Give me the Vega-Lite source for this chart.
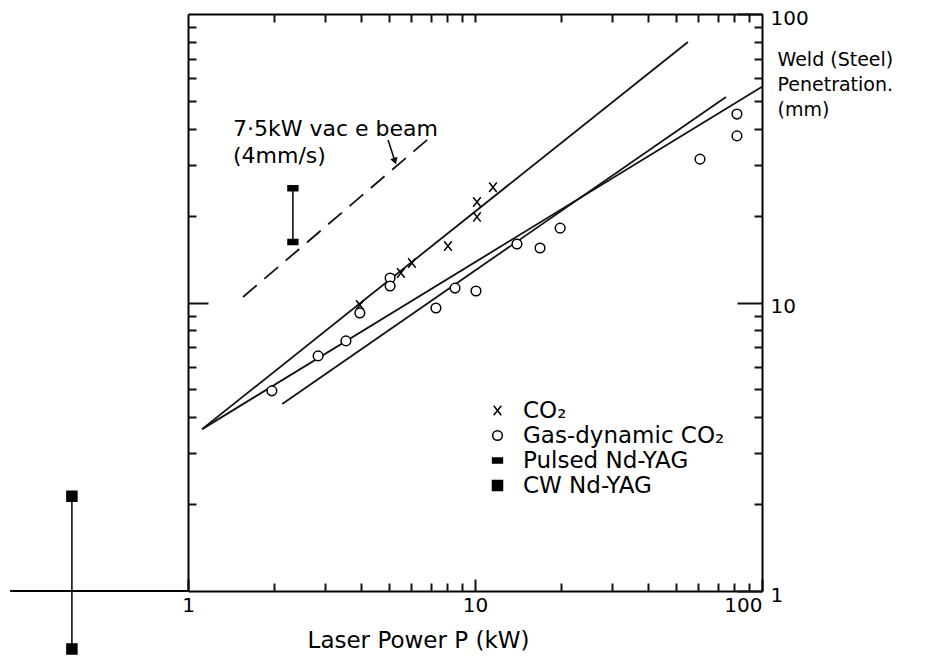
{
  "$schema": "https://vega.github.io/schema/vega-lite/v6.json",
  "width": 574,
  "height": 577,
  "autosize": {"type": "none"},
  "padding": {"left": 188, "top": 14, "right": 165, "bottom": 67},
  "background": "white",
  "config": {
    "view": {"stroke": null},
    "font": "DejaVu Sans",
    "axis": {"grid": false, "domainColor": "black", "domainWidth": 2, "labelColor": "black", "labelOverlap": false, "labelFlush": false}
  },
  "datasets": {
    "fits": [
      {"line": "A", "power": 1.12, "depth": 3.64},
      {"line": "A", "power": 55.2, "depth": 80.0},
      {"line": "B", "power": 1.12, "depth": 3.64},
      {"line": "B", "power": 100, "depth": 56},
      {"line": "C", "power": 2.13, "depth": 4.45},
      {"line": "C", "power": 74.9, "depth": 51.6}
    ],
    "vacbeam": [
      {"power": 1.555, "depth": 10.45},
      {"power": 7.14, "depth": 38.1}
    ],
    "extension": [
      {"from": 0.24, "to": 1, "at": 1}
    ],
    "ranges": [
      {"type": "Pulsed Nd-YAG", "power": 2.32, "lo": 16.2, "hi": 24.9},
      {"type": "CW Nd-YAG", "power": 0.394, "lo": 0.63, "hi": 2.13}
    ],
    "arrow": [
      {"power": 4.98, "depth": 36.6},
      {"power": 5.26, "depth": 30.9}
    ],
    "arrowtip": [
      {"power": 5.26, "depth": 30.9}
    ],
    "markers": [
      {"type": "Gas-dynamic CO₂", "power": 1.96, "depth": 4.94},
      {"type": "Gas-dynamic CO₂", "power": 2.84, "depth": 6.53},
      {"type": "Gas-dynamic CO₂", "power": 3.55, "depth": 7.36},
      {"type": "Gas-dynamic CO₂", "power": 3.97, "depth": 9.2},
      {"type": "Gas-dynamic CO₂", "power": 5.06, "depth": 12.16},
      {"type": "Gas-dynamic CO₂", "power": 5.06, "depth": 11.41},
      {"type": "Gas-dynamic CO₂", "power": 7.31, "depth": 9.57},
      {"type": "Gas-dynamic CO₂", "power": 8.52, "depth": 11.22},
      {"type": "Gas-dynamic CO₂", "power": 10.08, "depth": 10.96},
      {"type": "Gas-dynamic CO₂", "power": 14.0, "depth": 15.95},
      {"type": "Gas-dynamic CO₂", "power": 16.85, "depth": 15.45},
      {"type": "Gas-dynamic CO₂", "power": 19.8, "depth": 18.1},
      {"type": "Gas-dynamic CO₂", "power": 60.8, "depth": 31.4},
      {"type": "Gas-dynamic CO₂", "power": 81.8, "depth": 37.8},
      {"type": "Gas-dynamic CO₂", "power": 81.8, "depth": 45.0},
      {"type": "CO₂", "power": 3.97, "depth": 9.8},
      {"type": "CO₂", "power": 5.52, "depth": 12.66},
      {"type": "CO₂", "power": 6.03, "depth": 13.71},
      {"type": "CO₂", "power": 8.05, "depth": 15.7},
      {"type": "CO₂", "power": 10.16, "depth": 19.8},
      {"type": "CO₂", "power": 10.16, "depth": 22.3},
      {"type": "CO₂", "power": 11.55, "depth": 25.1},
      {"type": "Pulsed Nd-YAG", "power": 2.32, "depth": 24.9},
      {"type": "Pulsed Nd-YAG", "power": 2.32, "depth": 16.2},
      {"type": "CW Nd-YAG", "power": 0.394, "depth": 2.13},
      {"type": "CW Nd-YAG", "power": 0.394, "depth": 0.63}
    ],
    "notes": [
      {"label": "7·5kW vac e beam", "power": 1.435, "depth": 37.8},
      {"label": "(4mm/s)", "power": 1.435, "depth": 30.4}
    ]
  },
  "resolve": {"axis": {"x": "independent", "y": "independent"}},
  "layer": [
    {
      "data": {"name": "fits"},
      "mark": {"type": "line", "stroke": "#111", "strokeWidth": 1.8},
      "encoding": {
        "x": {
          "field": "power", "type": "quantitative",
          "scale": {"type": "log", "domain": [1, 100], "nice": false},
          "axis": {
            "orient": "bottom",
            "values": [1, 10, 100],
            "format": "d",
            "labelAlign": {"condition": {"test": "datum.value == 100", "value": "right"}, "value": "center"},
            "tickSize": -12, "tickColor": "#111111", "tickWidth": 2,
            "labelPadding": 16,
            "labelFontSize": 20,
            "title": "Laser Power P (kW)",
            "titleFontSize": 23, "titleFontWeight": "normal", "titleColor": "black",
            "titleX": 230, "titleY": 56, "titleBaseline": "alphabetic"
          }
        },
        "y": {
          "field": "depth", "type": "quantitative",
          "scale": {"type": "log", "domain": [1, 100], "nice": false},
          "axis": {
            "orient": "right",
            "values": [1, 10, 100],
            "format": "d",
            "labelAlign": "left",
            "labelOffset": 4,
            "tickSize": -25, "tickColor": "#111111", "tickWidth": 2,
            "labelPadding": 33,
            "labelFontSize": 20,
            "title": ["Weld (Steel)", "Penetration.", "(mm)"],
            "titleFontSize": 19, "titleFontWeight": "normal", "titleColor": "black",
            "titleAngle": 0, "titleAlign": "left", "titleBaseline": "top",
            "titleX": 15, "titleY": 36, "titleLineHeight": 25
          }
        },
        "detail": {"field": "line", "type": "nominal"}
      }
    },
    {
      "data": {"name": "vacbeam"},
      "mark": {"type": "line", "stroke": "#111", "strokeWidth": 1.8, "strokeDash": [18, 10]},
      "encoding": {
        "x": {
          "field": "power", "type": "quantitative",
          "axis": {
            "orient": "top",
            "values": [2, 3, 4, 5, 6, 7, 8, 9, 10, 20, 30, 40, 50, 60, 70, 80, 90],
            "labels": false,
            "tickSize": -8, "tickColor": "#111111", "tickWidth": 2,
            "title": null
          }
        },
        "y": {
          "field": "depth", "type": "quantitative",
          "axis": {
            "orient": "left",
            "values": [2, 3, 4, 5, 6, 7, 8, 9, 20, 30, 40, 50, 60, 70, 80, 90],
            "labels": false,
            "tickSize": -8, "tickColor": "#111111", "tickWidth": 2,
            "title": null
          }
        }
      }
    },
    {
      "data": {"name": "extension"},
      "mark": {"type": "rule", "stroke": "black", "strokeWidth": 2},
      "encoding": {
        "x": {
          "field": "from", "type": "quantitative",
          "axis": {
            "orient": "bottom",
            "values": [2, 3, 4, 5, 6, 7, 8, 9, 20, 30, 40, 50, 60, 70, 80, 90],
            "labels": false,
            "domain": false,
            "tickSize": -8, "tickColor": "#111111", "tickWidth": 2,
            "title": null
          }
        },
        "x2": {"field": "to"},
        "y": {
          "field": "at", "type": "quantitative",
          "axis": {
            "orient": "left",
            "values": [10],
            "labels": false,
            "domain": false,
            "tickSize": -20, "tickColor": "#111111", "tickWidth": 2,
            "title": null
          }
        }
      }
    },
    {
      "data": {"name": "ranges"},
      "mark": {"type": "rule", "stroke": "black", "strokeWidth": 1.5},
      "encoding": {
        "x": {"field": "power", "type": "quantitative", "axis": null},
        "y": {
          "field": "lo", "type": "quantitative",
          "axis": {
            "orient": "right",
            "values": [2, 3, 4, 5, 6, 7, 8, 9, 20, 30, 40, 50, 60, 70, 80, 90],
            "labels": false,
            "domain": false,
            "tickSize": -8, "tickColor": "#111111", "tickWidth": 2,
            "title": null
          }
        },
        "y2": {"field": "hi"}
      }
    },
    {
      "data": {"name": "arrow"},
      "mark": {"type": "line", "stroke": "#111", "strokeWidth": 1.6},
      "encoding": {
        "x": {"field": "power", "type": "quantitative", "axis": null},
        "y": {"field": "depth", "type": "quantitative", "axis": null}
      }
    },
    {
      "data": {"name": "arrowtip"},
      "mark": {"type": "point", "shape": "triangle-down", "size": 60, "filled": true, "fill": "#111", "stroke": null, "opacity": 1, "angle": 342},
      "encoding": {
        "x": {"field": "power", "type": "quantitative", "axis": null},
        "y": {"field": "depth", "type": "quantitative", "axis": null}
      }
    },
    {
      "data": {"name": "markers"},
      "mark": {"type": "point", "stroke": "black", "strokeWidth": 1.5, "opacity": 1},
      "encoding": {
        "x": {"field": "power", "type": "quantitative", "axis": null},
        "y": {"field": "depth", "type": "quantitative", "axis": null},
        "shape": {
          "field": "type", "type": "nominal",
          "scale": {
            "domain": ["CO₂", "Gas-dynamic CO₂", "Pulsed Nd-YAG", "CW Nd-YAG"],
            "range": ["M-0.8,-1L0.8,1M-0.8,1L0.8,-1", "circle", "M-1,-0.5H1V0.5H-1Z", "square"]
          },
          "legend": {
            "orient": "none", "legendX": 298, "legendY": 385,
            "title": null, "padding": 0,
            "labelFontSize": 23, "labelFont": "DejaVu Sans", "labelColor": "black",
            "labelOffset": 14, "rowPadding": 1, "labelLimit": 400,
            "symbolStrokeWidth": 1.5, "symbolStrokeColor": "black"
          }
        },
        "fill": {
          "field": "type", "type": "nominal",
          "scale": {
            "domain": ["CO₂", "Gas-dynamic CO₂", "Pulsed Nd-YAG", "CW Nd-YAG"],
            "range": ["transparent", "white", "black", "black"]
          }
        },
        "size": {
          "field": "type", "type": "nominal",
          "scale": {
            "domain": ["CO₂", "Gas-dynamic CO₂", "Pulsed Nd-YAG", "CW Nd-YAG"],
            "range": [90, 100, 220, 210]
          }
        }
      }
    },
    {
      "data": {"name": "notes"},
      "mark": {"type": "text", "align": "left", "baseline": "alphabetic", "fontSize": 22, "font": "DejaVu Sans", "fill": "black"},
      "encoding": {
        "x": {"field": "power", "type": "quantitative", "axis": null},
        "y": {"field": "depth", "type": "quantitative", "axis": null},
        "text": {"field": "label"}
      }
    }
  ]
}
